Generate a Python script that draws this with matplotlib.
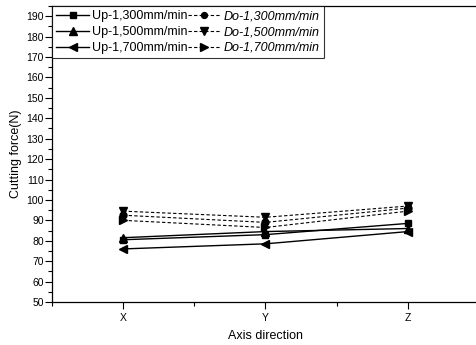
import matplotlib.pyplot as plt
from matplotlib.ticker import MultipleLocator

plt.rcParams['font.family'] = ['Liberation Sans', 'DejaVu Sans']

axes_labels = ['X', 'Y', 'Z']
up_1300 = [80.5, 83.0, 88.5]
up_1500 = [81.5, 84.5, 86.0]
up_1700 = [76.0, 78.5, 84.5]
do_1300 = [92.5, 89.0, 96.0]
do_1500 = [94.5, 91.5, 97.0]
do_1700 = [90.0, 86.5, 94.5]

xs = [1, 2, 3]

fig = plt.figure(figsize=(4.77, 3.45), dpi=100)
ax = fig.add_axes([52/477, 43/345, 427/477, 296/345])

ms = 5
ax.plot(xs, up_1300, '-', color='k', marker='s', ms=ms, lw=1, label='Up-1,300mm/min')
ax.plot(xs, up_1500, '-', color='k', marker='^', ms=ms+1, lw=1, label='Up-1,500mm/min')
ax.plot(xs, up_1700, '-', color='k', marker='<', ms=ms+1, lw=1, label='Up-1,700mm/min')
ax.plot(xs, do_1300, '--', color='k', marker='o', ms=ms, lw=0.8, dashes=(3, 2), label='Do-1,300mm/min')
ax.plot(xs, do_1500, '--', color='k', marker='v', ms=ms+1, lw=0.8, dashes=(3, 2), label='Do-1,500mm/min')
ax.plot(xs, do_1700, '--', color='k', marker='>', ms=ms+1, lw=0.8, dashes=(3, 2), label='Do-1,700mm/min')

ax.set_xlim(0.5, 3.5)
ax.set_ylim(50, 195)
ax.set_xticks(xs)
ax.set_xticklabels(axes_labels)
ax.xaxis.set_minor_locator(MultipleLocator(0.5))
ax.yaxis.set_major_locator(MultipleLocator(10))
ax.yaxis.set_minor_locator(MultipleLocator(5))
ax.tick_params(axis='both', which='major', direction='out', length=5, width=0.8, labelsize=7.5)
ax.tick_params(axis='both', which='minor', direction='out', length=3, width=0.8)
ax.tick_params(axis='y', which='major', pad=1)
ax.tick_params(axis='x', which='major', pad=3)
for s in ax.spines.values():
    s.set_linewidth(0.9)

ax.set_xlabel('Axis direction', fontsize=9, labelpad=5)
ax.set_ylabel('Cutting force(N)', fontsize=9, labelpad=3)

leg = ax.legend(ncol=2, loc='upper left', fontsize=9, frameon=True, fancybox=False,
                edgecolor='k', borderaxespad=0, handlelength=2.65, handletextpad=0.2,
                columnspacing=0.0, labelspacing=0.3, borderpad=0.35, markerscale=0.85)
leg.get_frame().set_linewidth(0.8)
for t in leg.get_texts()[3:]:
    t.set_style('italic')

fig.savefig('out.png', dpi=100)
plt.close()
